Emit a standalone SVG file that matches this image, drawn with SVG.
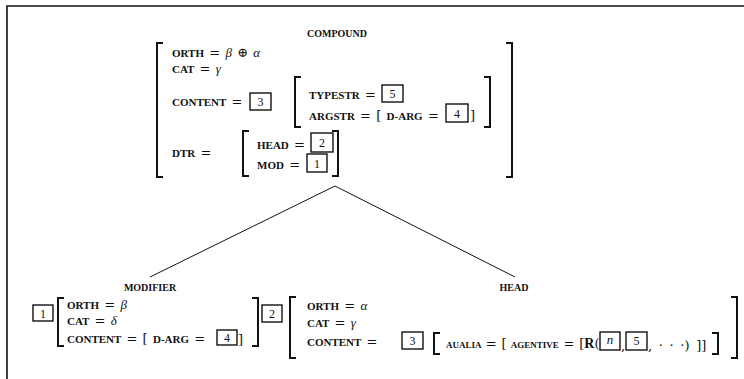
<svg xmlns="http://www.w3.org/2000/svg" width="744" height="379" viewBox="0 0 744 379">
  <defs>
    <style>
      .t { font-family: "Liberation Serif", "DejaVu Serif", serif; font-size: 11px; font-weight: bold; fill: #111; word-spacing: 2.5px; }
      .s { font-size: 9px; }
      .lbl { font-family: "Liberation Serif", "DejaVu Serif", serif; font-size: 10px; font-weight: bold; fill: #111; text-anchor: middle; }
      .g { font-family: "Liberation Serif", "DejaVu Serif", serif; font-style: italic; font-weight: normal; font-size: 13px; }
      .op { font-family: "DejaVu Serif", serif; font-weight: normal; font-size: 13px; }
      .br { fill: none; stroke: #111; stroke-width: 2; }
      .box { fill: #fff; stroke: #111; stroke-width: 1.4; }
      .num { font-family: "Liberation Serif", "DejaVu Serif", serif; font-size: 12px; fill: #111; text-anchor: middle; }
      .edge { fill: none; stroke: #111; stroke-width: 1; }
      .frame { fill: none; stroke: #111; stroke-width: 1.6; }
    </style>
  </defs>
  <rect width="744" height="379" fill="#fff"/>
  <path class="frame" d="M7,379 V6 H744"/>

  <!-- connectors of the tree -->
  <g id="connectors">
    <path class="edge" d="M335,186 L150,277"/>
    <path class="edge" d="M335,186 L515,277"/>
  </g>

  <!-- compound feature structure -->
  <g id="compound">
    <text class="lbl" x="337" y="37">COMPOUND</text>
    <path class="br" d="M163,43 H157 V177 H163"/>
    <path class="br" d="M506,43 H512 V177 H506"/>
    <text class="t" x="172" y="57">ORTH <tspan class="op">=</tspan> <tspan class="g">β</tspan> <tspan class="op">⊕</tspan> <tspan class="g">α</tspan></text>
    <text class="t" x="172" y="73">CAT <tspan class="op">=</tspan> <tspan class="g">γ</tspan></text>
    <text class="t" x="172" y="106">CONTENT <tspan class="op">=</tspan></text>
    <rect class="box" x="250" y="93" width="21" height="17"/>
    <text class="num" x="260.5" y="106">3</text>
    <path class="br" d="M301,77 H295 V127 H301"/>
    <path class="br" d="M484,77 H490 V127 H484"/>
    <text class="t" x="309" y="99">TYPESTR <tspan class="op">=</tspan></text>
    <rect class="box" x="382" y="85" width="21" height="17"/>
    <text class="num" x="392.5" y="98">5</text>
    <text class="t" x="309" y="120">ARGSTR <tspan class="op">=</tspan> <tspan class="op">[</tspan> D-ARG <tspan class="op">=</tspan></text>
    <rect class="box" x="446" y="104" width="22" height="18"/>
    <text class="num" x="457" y="118">4</text>
    <text class="t op" x="470" y="120">]</text>
    <text class="t" x="172" y="157">DTR <tspan class="op">=</tspan></text>
    <path class="br" d="M249,131 H243 V176 H249"/>
    <path class="br" d="M332,131 H338 V176 H332"/>
    <text class="t" x="257" y="149">HEAD <tspan class="op">=</tspan></text>
    <rect class="box" x="311" y="133" width="22" height="19"/>
    <text class="num" x="322" y="147">2</text>
    <text class="t" x="257" y="169">MOD <tspan class="op">=</tspan></text>
    <rect class="box" x="307" y="154" width="20" height="18"/>
    <text class="num" x="317" y="168">1</text>
  </g>

  <!-- modifier daughter -->
  <g id="modifier">
    <text class="lbl" x="150" y="291">MODIFIER</text>
    <rect class="box" x="33" y="305" width="20" height="16"/>
    <text class="num" x="43" y="318">1</text>
    <path class="br" d="M64,298 H58 V346 H64"/>
    <path class="br" d="M252,298 H258 V346 H252"/>
    <text class="t" x="67" y="309">ORTH <tspan class="op">=</tspan> <tspan class="g">β</tspan></text>
    <text class="t" x="67" y="325">CAT <tspan class="op">=</tspan> <tspan class="g">δ</tspan></text>
    <text class="t" x="67" y="343">CONTENT <tspan class="op">=</tspan> <tspan class="op">[</tspan> D-ARG <tspan class="op">=</tspan></text>
    <rect class="box" x="217" y="330" width="20" height="15"/>
    <text class="num" x="227" y="342">4</text>
    <text class="t op" x="238" y="344">]</text>
  </g>

  <!-- head daughter -->
  <g id="head">
    <text class="lbl" x="514" y="291">HEAD</text>
    <rect class="box" x="262" y="305" width="20" height="17"/>
    <text class="num" x="272" y="318">2</text>
    <path class="br" d="M296,297 H290 V358 H296"/>
    <path class="br" d="M731,297 H737 V358 H731"/>
    <text class="t" x="307" y="310">ORTH <tspan class="op">=</tspan> <tspan class="g">α</tspan></text>
    <text class="t" x="307" y="327">CAT <tspan class="op">=</tspan> <tspan class="g">γ</tspan></text>
    <text class="t" x="307" y="346">CONTENT <tspan class="op">=</tspan></text>
    <rect class="box" x="402" y="332" width="21" height="17"/>
    <text class="num" x="412.5" y="345">3</text>
    <path class="br" d="M440,333 H434 V354 H440"/>
    <path class="br" d="M712,333 H718 V354 H712"/>
    <text class="t s" x="446" y="348">AUALIA <tspan class="op">=</tspan> <tspan class="op">[</tspan> AGENTIVE <tspan class="op">=</tspan> <tspan class="op">[</tspan><tspan font-size="14px">R</tspan><tspan class="op">(</tspan></text>
    <rect class="box" x="600" y="332" width="20" height="18"/>
    <text class="g" x="610" y="344" text-anchor="middle" fill="#111" font-size="11px">n</text>
    <text class="t op" x="621" y="350">,</text>
    <rect class="box" x="626" y="332" width="21" height="18"/>
    <text class="num" x="636.5" y="345">5</text>
    <text class="t op" x="648" y="350">, · · ·) ]]</text>
  </g>
</svg>
